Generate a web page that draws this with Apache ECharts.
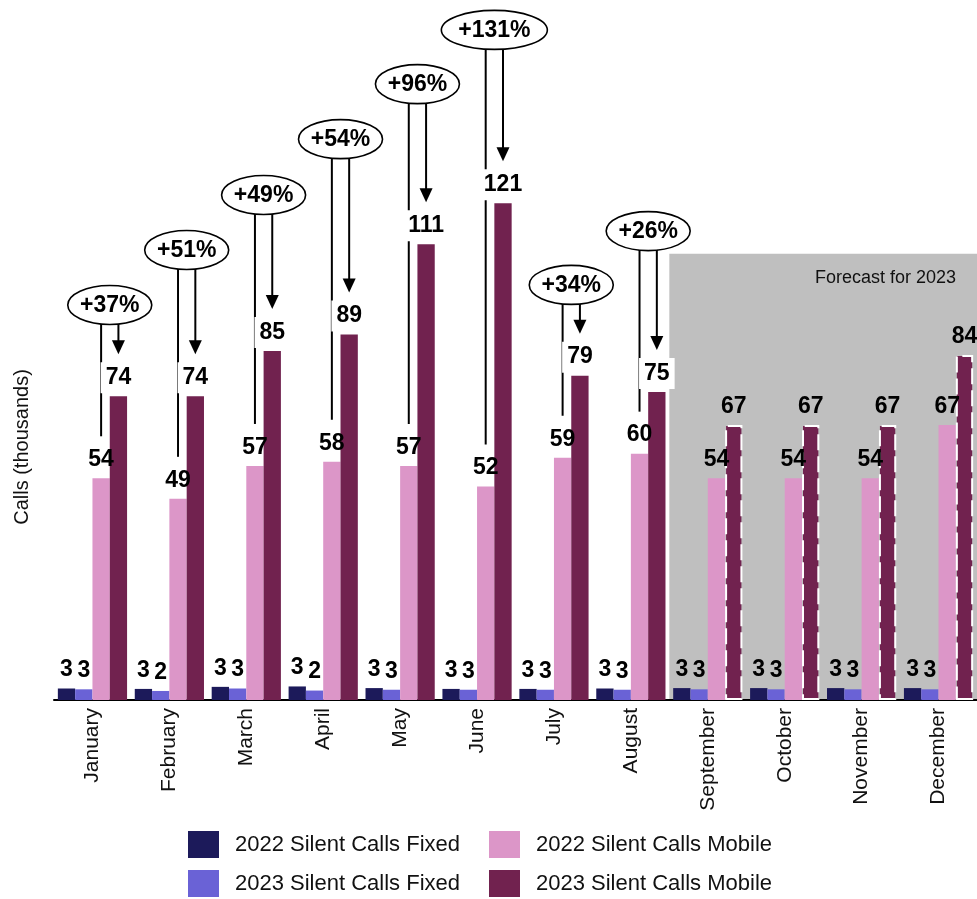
<!DOCTYPE html>
<html>
<head>
<meta charset="utf-8">
<script src="https://cdn.jsdelivr.net/npm/echarts@6/dist/echarts.min.js"></script>
<style>
  html, body { margin: 0; padding: 0; background: #ffffff; }
  #chart { width: 977px; height: 899px; }
</style>
</head>
<body>
<div id="chart"></div>
<script>
// ---------------- data ----------------
const months = ['January', 'February', 'March', 'April', 'May', 'June', 'July',
                'August', 'September', 'October', 'November', 'December'];
const fixed2022 = [2.8, 2.7, 3.2, 3.3, 2.9, 2.7, 2.7, 2.8, 2.9, 2.9, 2.9, 2.9];
const fixed2023 = [2.6, 2.2, 2.8, 2.3, 2.5, 2.5, 2.5, 2.5, 2.6, 2.6, 2.6, 2.6];
const mobile2022 = [54, 49, 57, 58, 57, 52, 59, 60, 54, 54, 54, 67];
const mobile2023 = [74, 74, 85, 89, 111, 121, 79, 75, 67, 67, 67, 84];
const changeLabels = ['+37%', '+51%', '+49%', '+54%', '+96%', '+131%', '+34%', '+26%'];
const forecastFrom = 'September';
const forecastTo = 'December';
const forecastText = 'Forecast for 2023';
const seriesNames = ['2022 Silent Calls Fixed', '2023 Silent Calls Fixed',
                     '2022 Silent Calls Mobile', '2023 Silent Calls Mobile'];

// ---------------- layout / style ----------------
const calloutLevels = [96.2, 109.6, 123.0, 136.6, 150.0, 163.2, 101.1, 114.2]; // ellipse heights (axis units)
const forecastBoxTop = 108.7;   // axis units
const FONT = '"Liberation Sans", Arial, sans-serif';
const colors = ['#1c1a5a', '#6a62d6', '#dc96c8', '#71224f'];
const legendPos = [[188, 831], [188, 870], [489, 831], [489, 870]];

const forecastStart = months.indexOf(forecastFrom);
const forecastEnd = months.indexOf(forecastTo);

const labelBase = {
  show: true, position: 'top', distance: 3,
  fontSize: 23, fontWeight: 'bold', fontFamily: FONT, color: '#000',
  padding: [4, 5],
  formatter: p => String(Math.round(p.value))
};

function barSeries(i, values, perItem) {
  return {
    name: seriesNames[i], type: 'bar', z: 2,
    barGap: 0, barCategoryGap: '10%',
    itemStyle: { color: colors[i] },
    label: labelBase,
    data: values.map((v, k) => perItem ? perItem(v, k) : v)
  };
}

const calloutData = changeLabels.map((t, k) => [k, mobile2022[k], mobile2023[k], calloutLevels[k]]);

const chart = echarts.init(document.getElementById('chart'), null, { renderer: 'canvas' });

chart.setOption({
  animation: false,
  backgroundColor: '#ffffff',
  grid: { left: 54, top: 2, width: 925, bottom: 199, containLabel: false },
  xAxis: {
    type: 'category', data: months,
    axisLine: { show: true, lineStyle: { color: '#000', width: 2 } },
    axisTick: { show: false },
    axisLabel: { rotate: 90, margin: 8, fontSize: 21, fontFamily: FONT, color: '#111', interval: 0 }
  },
  yAxis: {
    type: 'value', min: 0, max: 170,
    axisLine: { show: false }, axisTick: { show: false },
    axisLabel: { show: false }, splitLine: { show: false }
  },
  legend: seriesNames.map((n, i) => ({
    left: legendPos[i][0], top: legendPos[i][1], itemWidth: 31, itemHeight: 27,
    padding: 0, icon: 'rect', data: [n],
    textStyle: { fontSize: 22, fontFamily: FONT, color: '#111', padding: [0, 0, 0, 11] }
  })),
  graphic: [
    {
      type: 'text', x: 22, y: 447, rotation: Math.PI / 2,
      style: { text: 'Calls (thousands)', fontSize: 20, fontFamily: FONT, fill: '#111',
               align: 'center', verticalAlign: 'middle', textAlign: 'center', textVerticalAlign: 'middle' }
    }
  ],
  series: [
    // forecast shaded area
    {
      type: 'custom', z: 0, silent: true, clip: false,
      data: [[forecastStart, forecastEnd]],
      encode: { x: 0 },
      renderItem: function (params, api) {
        const band = api.size([1, 0])[0];
        const p0 = api.coord([api.value(0), 0]);
        const p1 = api.coord([api.value(1), forecastBoxTop]);
        const left = p0[0] - band / 2;
        const right = p1[0] + band / 2;
        return {
          type: 'group',
          children: [
            { type: 'rect', shape: { x: left, y: p1[1], width: right - left, height: p0[1] - p1[1] },
              style: { fill: '#bfbfbf' } },
            { type: 'text', x: right - 21, y: p1[1] + 24,
              style: { text: forecastText, fontSize: 18, fontFamily: FONT, fill: '#111',
                       align: 'right', verticalAlign: 'middle' } }
          ]
        };
      }
    },
    // callouts
    {
      type: 'custom', z: 1, silent: true, clip: false,
      data: calloutData,
      encode: { x: 0 },
      renderItem: function (params, api) {
        const idx = api.value(0);
        const band = api.size([1, 0])[0];
        const base = api.coord([idx, 0]);
        const bw = band * 0.9 / 4;
        const x22 = base[0] + 0.5 * bw;
        const x23 = base[0] + 1.5 * bw;
        const xm = base[0] + bw;
        const ey = api.coord([idx, api.value(3)])[1];
        const y22 = api.coord([idx, api.value(1)])[1] - 42;
        const y23 = api.coord([idx, api.value(2)])[1] - 42;
        const txt = changeLabels[params.dataIndex];
        const rx = 11 * txt.length - 2;
        const ry = 19.5;
        const ls = { stroke: '#000', lineWidth: 2 };
        return {
          type: 'group',
          children: [
            { type: 'line', shape: { x1: x22, y1: ey, x2: x22, y2: y22 }, style: ls },
            { type: 'line', shape: { x1: x23, y1: ey, x2: x23, y2: y23 - 12 }, style: ls },
            { type: 'polygon', shape: { points: [[x23 - 6.5, y23 - 14], [x23 + 6.5, y23 - 14], [x23, y23]] },
              style: { fill: '#000' } },
            { type: 'ellipse', shape: { cx: xm, cy: ey, rx: rx, ry: ry },
              style: { fill: '#fff', stroke: '#000', lineWidth: 1.6 } },
            { type: 'text', x: xm, y: ey + 1,
              style: { text: txt, fontSize: 23, fontWeight: 'bold', fontFamily: FONT, fill: '#000',
                       align: 'center', verticalAlign: 'middle' } }
          ]
        };
      }
    },
    barSeries(0, fixed2022),
    barSeries(1, fixed2023),
    barSeries(2, mobile2022),
    barSeries(3, mobile2023, (v, k) => {
      const fc = k >= forecastStart;
      return {
        value: v,
        itemStyle: fc ? { borderColor: '#ffffff', borderWidth: 2, borderType: [16, 6] } : {},
        label: { backgroundColor: fc ? 'transparent' : '#ffffff' }
      };
    })
  ]
});
</script>
</body>
</html>
